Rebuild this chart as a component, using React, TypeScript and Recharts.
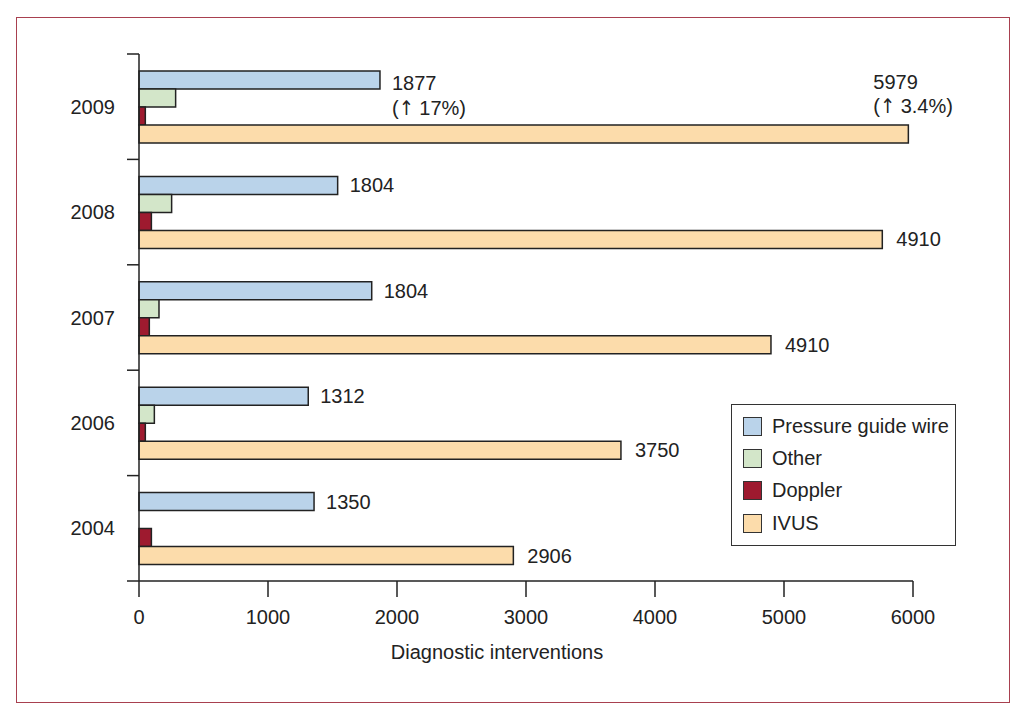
import React from "react";
import { BarChart, Bar, XAxis, YAxis, Legend, LabelList } from "recharts";

const years = ["2009", "2008", "2007", "2006", "2004"];
const pressureGuideWire = [1868, 1540, 1804, 1312, 1357];
const other = [284, 253, 155, 119, null];
const doppler = [49, 96, 80, 49, 96];
const ivus = [5964, 5762, 4899, 3736, 2902];

const pgwLabels = ["1877", "1804", "1804", "1312", "1350"];
const pgwNotes = ["(↑ 17%)", "", "", "", ""];
const ivusLabels = ["5979", "4910", "4910", "3750", "2906"];
const ivusNotes = ["(↑ 3.4%)", "", "", "", ""];

const xTicks = [0, 1000, 2000, 3000, 4000, 5000, 6000];

const series = [
  { key: "pgw", name: "Pressure guide wire", color: "#bad3ea" },
  { key: "other", name: "Other", color: "#d3e6c9" },
  { key: "doppler", name: "Doppler", color: "#9e1a2f" },
  { key: "ivus", name: "IVUS", color: "#fcdcab" },
];

const data = years.map((year, i) => ({
  year,
  pgw: pressureGuideWire[i],
  other: other[i],
  doppler: doppler[i],
  ivus: ivus[i],
}));

const FONT = "'Liberation Sans', Arial, sans-serif";
const FS = 20;
const INK = "#222";

// the arrow in Liberation Sans is tiny, so draw it with DejaVu
function noteSpans(note: string) {
  const parts = note.split("↑");
  return (
    <>
      {parts[0]}
      <tspan fontFamily="'DejaVu Sans Condensed', 'DejaVu Sans'">↑</tspan>
      {parts[1]}
    </>
  );
}

function YearTick(props: any) {
  const { x, y, payload, index } = props;
  const half = payload.offset ?? 52.7;
  return (
    <g>
      <line x1={x - 12} y1={y - half} x2={x} y2={y - half} stroke={INK} strokeWidth={1.5} />
      {index === years.length - 1 && (
        <line x1={x - 12} y1={y + half} x2={x} y2={y + half} stroke={INK} strokeWidth={1.5} />
      )}
      <text x={x - 24} y={y} dy="0.35em" textAnchor="end" fontSize={FS} fontFamily={FONT} fill={INK}>
        {payload.value}
      </text>
    </g>
  );
}

function pgwLabel(props: any) {
  const { x, y, width, height, index } = props;
  const cy = y + height / 2;
  const note = pgwNotes[index];
  return (
    <g fontSize={FS} fontFamily={FONT} fill={INK}>
      <text x={x + width + 12} y={note ? cy + 3 : cy} dy="0.35em">{pgwLabels[index]}</text>
      {note && <text x={x + width + 12} y={cy + 28} dy="0.35em">{noteSpans(note)}</text>}
    </g>
  );
}

function ivusLabel(props: any) {
  const { x, y, width, height, index } = props;
  const note = ivusNotes[index];
  if (note) {
    return (
      <g fontSize={FS} fontFamily={FONT} fill={INK}>
        <text x={x + width - 35} y={y - 43} dy="0.35em">{ivusLabels[index]}</text>
        <text x={x + width - 35} y={y - 19} dy="0.35em">{noteSpans(note)}</text>
      </g>
    );
  }
  return (
    <text x={x + width + 14} y={y + height / 2} dy="0.35em" fontSize={FS} fontFamily={FONT} fill={INK}>
      {ivusLabels[index]}
    </text>
  );
}

function LegendBox() {
  return (
    <div
      style={{
        border: "1.5px solid #333",
        width: 225,
        height: 142,
        boxSizing: "border-box",
        paddingTop: 5,
        background: "#fff",
        fontFamily: FONT,
        fontSize: FS,
        color: INK,
        whiteSpace: "nowrap",
      }}
    >
      {series.map((s) => (
        <div key={s.key} style={{ display: "flex", alignItems: "center", height: 32.3 }}>
          <span
            style={{
              display: "inline-block",
              width: 19,
              height: 19,
              boxSizing: "border-box",
              border: "1.5px solid #333",
              background: s.color,
              marginLeft: 11,
              marginRight: 10,
            }}
          />
          <span>{s.name}</span>
        </div>
      ))}
    </div>
  );
}

export default function App() {
  return (
    <div style={{ position: "absolute", left: 0, top: 0, width: 1024, height: 718, background: "#fff" }}>
      <div
        style={{
          position: "absolute",
          left: 16,
          top: 17,
          width: 994,
          height: 686,
          boxSizing: "border-box",
          border: "1.5px solid #a8404f",
        }}
      />
      <BarChart
        width={1024}
        height={718}
        data={data}
        layout="vertical"
        margin={{ top: 54, right: 111, bottom: 0, left: 0 }}
        barSize={18}
        barGap={0}
      >
        <XAxis
          type="number"
          domain={[0, 6000]}
          ticks={xTicks}
          height={137}
          stroke={INK}
          tickSize={16}
          tickMargin={13}
          axisLine={{ stroke: INK, strokeWidth: 1.5 }}
          tickLine={{ stroke: INK, strokeWidth: 1.5 }}
          tick={{ fontSize: FS, fontFamily: FONT, fill: INK }}
          label={{
            content: ({ viewBox }: any) => (
              <text
                x={viewBox.x + viewBox.width / 2 - 29}
                y={viewBox.y + 64}
                dy="0.71em"
                textAnchor="middle"
                fontSize={FS}
                fontFamily={FONT}
                fill={INK}
              >
                Diagnostic interventions
              </text>
            ),
          }}
        />
        <YAxis
          type="category"
          dataKey="year"
          width={139}
          tickSize={0}
          tickMargin={0}
          tickLine={false}
          axisLine={{ stroke: INK, strokeWidth: 1.5 }}
          tick={<YearTick />}
          interval={0}
        />
        <Legend
          layout="horizontal"
          verticalAlign="middle"
          align="center"
          wrapperStyle={{ left: 731, top: 404, width: 225 }}
          content={() => <LegendBox />}
        />
        {series.map((s) => (
          <Bar
            key={s.key}
            dataKey={s.key}
            name={s.name}
            fill={s.color}
            stroke={INK}
            strokeWidth={1.5}
            isAnimationActive={false}
          >
            {s.key === "pgw" && <LabelList dataKey="pgw" content={pgwLabel} />}
            {s.key === "ivus" && <LabelList dataKey="ivus" content={ivusLabel} />}
          </Bar>
        ))}
      </BarChart>
    </div>
  );
}
